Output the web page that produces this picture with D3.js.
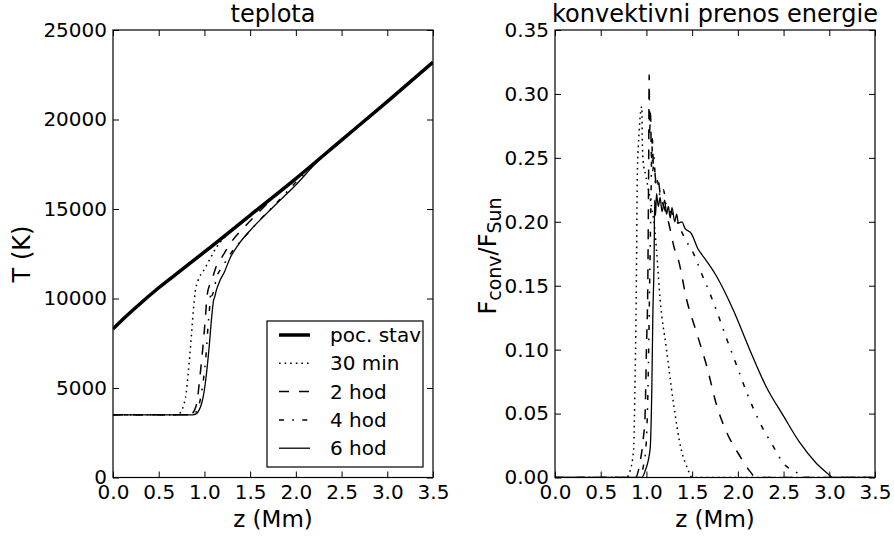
<!DOCTYPE html>
<html lang="en">
  <head>
    <meta charset="UTF-8" />
    <title>teplota / konvektivni prenos</title>
    <script src="https://cdn.jsdelivr.net/npm/d3@7"></script>
    <style>
      body { margin: 0; background: #fff; }
      svg { display: block; font-family: "DejaVu Sans", sans-serif; }
    </style>
  </head>
  <body>
    <svg width="894" height="539"></svg>
    <script>
      // z (Mm), T (K)
      const tPocStav = [[0,8300],[0.1,8800],[0.25,9500],[0.5,10600],[0.75,11600],[1.0,12600],[1.5,14650],[2.0,16700],[2.5,18850],[3.0,21000],[3.5,23200]];
      const t30min = [[0,3500],[0.70,3500],[0.74,3650],[0.77,4000],[0.80,4700],[0.82,5700],[0.84,6800],[0.86,8100],[0.88,9400],[0.90,10400],[0.93,11000],[0.99,11550],[1.06,12200],[1.13,12850],[1.21,13350],[1.35,14000],[1.5,14600],[1.75,15650],[2.0,16700],[2.5,18850],[3.0,21000],[3.5,23200]];
      const t2hod = [[0,3500],[0.82,3500],[0.86,3550],[0.89,3750],[0.92,4250],[0.95,5600],[0.98,7100],[1.01,8900],[1.03,10200],[1.06,10800],[1.09,11200],[1.13,11800],[1.19,12300],[1.30,13200],[1.43,13950],[1.57,14700],[1.76,15650],[2.0,16650],[2.2,17550],[2.5,18850],[3.0,21000],[3.5,23200]];
      const t4hod = [[0,3500],[0.85,3500],[0.89,3580],[0.93,3850],[0.96,4500],[0.99,5500],[1.02,7000],[1.04,8500],[1.06,9700],[1.07,10400],[1.08,10150],[1.10,10400],[1.13,11100],[1.2,11800],[1.3,12600],[1.45,13500],[1.6,14350],[1.8,15400],[2.0,16500],[2.2,17500],[2.5,18850],[3.0,21000],[3.5,23200]];
      const t6hod = [[0,3500],[0.87,3500],[0.91,3550],[0.94,3750],[0.97,4150],[0.99,4600],[1.02,5700],[1.05,7200],[1.08,9000],[1.10,9900],[1.11,10050],[1.13,10450],[1.17,11000],[1.22,11500],[1.28,12250],[1.37,13000],[1.5,13800],[1.64,14550],[1.83,15500],[2.01,16400],[2.2,17450],[2.4,18400],[2.6,19300],[3.0,21000],[3.5,23200]];

      // z (Mm), Fconv/FSun
      const f30min = [[0,0],[0.78,0],[0.82,0.005],[0.86,0.022],[0.875,0.074],[0.886,0.126],[0.893,0.178],[0.90,0.235],[0.92,0.27],[0.935,0.285],[0.95,0.29],[0.955,0.262],[0.965,0.247],[0.99,0.237],[1.02,0.226],[1.06,0.21],[1.09,0.195],[1.11,0.178],[1.15,0.139],[1.22,0.1],[1.29,0.061],[1.38,0.022],[1.45,0.007],[1.5,0],[3.5,0]];
      const f2hod = [[0,0],[0.88,0],[0.93,0.012],[0.965,0.03],[0.985,0.048],[1.0,0.1],[1.015,0.152],[1.025,0.25],[1.03,0.315],[1.035,0.27],[1.045,0.285],[1.055,0.25],[1.065,0.265],[1.075,0.245],[1.09,0.24],[1.11,0.228],[1.13,0.232],[1.15,0.222],[1.2,0.21],[1.24,0.2],[1.31,0.178],[1.35,0.17],[1.44,0.139],[1.55,0.113],[1.66,0.087],[1.77,0.056],[1.88,0.035],[2.02,0.017],[2.13,0.005],[2.2,0],[3.5,0]];
      const f4hod = [[0,0],[0.92,0],[0.97,0.01],[1.0,0.03],[1.02,0.08],[1.035,0.15],[1.05,0.22],[1.06,0.26],[1.07,0.24],[1.085,0.25],[1.1,0.228],[1.12,0.232],[1.15,0.22],[1.185,0.225],[1.22,0.212],[1.3,0.205],[1.4,0.19],[1.46,0.182],[1.51,0.176],[1.6,0.16],[1.66,0.15],[1.79,0.126],[1.88,0.108],[1.99,0.087],[2.1,0.066],[2.24,0.043],[2.39,0.024],[2.5,0.011],[2.64,0.004],[2.72,0],[3.5,0]];
      const f6hod = [[0,0],[0.95,0],[0.985,0.005],[1.04,0.022],[1.06,0.074],[1.07,0.126],[1.085,0.178],[1.09,0.217],[1.10,0.205],[1.11,0.222],[1.13,0.212],[1.15,0.219],[1.17,0.208],[1.2,0.217],[1.22,0.206],[1.24,0.212],[1.26,0.203],[1.28,0.211],[1.31,0.2],[1.33,0.206],[1.35,0.199],[1.39,0.2],[1.42,0.195],[1.49,0.191],[1.57,0.178],[1.59,0.176],[1.77,0.157],[1.95,0.131],[2.13,0.1],[2.31,0.071],[2.5,0.048],[2.68,0.027],[2.86,0.011],[3.0,0.002],[3.03,0],[3.5,0]];

      const legendLabels = ["poc. stav", "30 min", "2 hod", "4 hod", "6 hod"];
      const zTicks = [0, 0.5, 1, 1.5, 2, 2.5, 3, 3.5];
      const tTicks = [0, 5000, 10000, 15000, 20000, 25000];
      const fTicks = [0, 0.05, 0.1, 0.15, 0.2, 0.25, 0.3, 0.35];

      // line styles (matplotlib classic look)
      const styles = [
        { width: 3.5, dash: null },
        { width: 1.5, dash: "1.6,4" },
        { width: 1.5, dash: "10,10" },
        { width: 1.5, dash: "5,8.3,1.7,8.3" },
        { width: 1.3, dash: null },
      ];

      const svg = d3.select("svg");
      const plotTop = 30, plotBottom = 477.5, tickLen = 6;

      function panel(x0, x1, yDomain, yTicks, yFmt, series, lineStyles, title) {
        const x = d3.scaleLinear().domain([0, 3.5]).range([x0, x1]);
        const y = d3.scaleLinear().domain(yDomain).range([plotBottom, plotTop]);
        const g = svg.append("g");

        const clipId = "clip" + Math.round(x0);
        g.append("clipPath").attr("id", clipId)
          .append("rect").attr("x", x0).attr("y", plotTop).attr("width", x1 - x0).attr("height", plotBottom - plotTop);

        const line = d3.line().x(d => x(d[0])).y(d => y(d[1])).curve(d3.curveMonotoneX);
        g.append("g").attr("clip-path", `url(#${clipId})`)
          .selectAll("path").data(series).join("path")
          .attr("d", line)
          .attr("fill", "none")
          .attr("stroke", "#000")
          .attr("stroke-width", (d, i) => lineStyles[i].width)
          .attr("stroke-dasharray", (d, i) => lineStyles[i].dash);

        // ticks inside, on all four sides
        const axB = d3.axisBottom(x).tickValues(zTicks).tickSizeInner(-tickLen).tickSizeOuter(0).tickPadding(7).tickFormat(d3.format(".1f"));
        const axT = d3.axisTop(x).tickValues(zTicks).tickSizeInner(-tickLen).tickSizeOuter(0).tickFormat("");
        const axL = d3.axisLeft(y).tickValues(yTicks).tickSizeInner(-tickLen).tickSizeOuter(0).tickPadding(6).tickFormat(yFmt);
        const axR = d3.axisRight(y).tickValues(yTicks).tickSizeInner(-tickLen).tickSizeOuter(0).tickFormat("");
        g.append("g").attr("transform", `translate(0,${plotBottom})`).call(axB);
        g.append("g").attr("transform", `translate(0,${plotTop})`).call(axT);
        g.append("g").attr("transform", `translate(${x0},0)`).call(axL);
        g.append("g").attr("transform", `translate(${x1},0)`).call(axR);
        g.selectAll(".domain").remove();
        g.selectAll(".tick line").attr("stroke", "#000");
        g.selectAll(".tick text").attr("font-size", 20).attr("font-family", "DejaVu Sans").attr("fill", "#000");

        g.append("rect").attr("x", x0).attr("y", plotTop).attr("width", x1 - x0).attr("height", plotBottom - plotTop)
          .attr("fill", "none").attr("stroke", "#000").attr("stroke-width", 1.2);

        g.append("text").attr("x", (x0 + x1) / 2).attr("y", 22)
          .attr("text-anchor", "middle").attr("font-size", 24).text(title);
        g.append("text").attr("x", (x0 + x1) / 2).attr("y", 527)
          .attr("text-anchor", "middle").attr("font-size", 23).text("z (Mm)");
        return g;
      }

      const left = panel(113, 433, [0, 25000], tTicks, d3.format("d"),
        [tPocStav, t30min, t2hod, t4hod, t6hod], styles, "teplota");
      const right = panel(555, 875, [0, 0.35], fTicks, d3.format(".2f"),
        [f30min, f2hod, f4hod, f6hod], styles.slice(1), "konvektivni prenos energie");

      // y labels
      left.append("text").attr("transform", "translate(30,254) rotate(-90)")
        .attr("text-anchor", "middle").attr("font-size", 24).text("T (K)");
      const yl = right.append("text").attr("transform", "translate(496,256) rotate(-90)")
        .attr("text-anchor", "middle").attr("font-size", 24);
      yl.append("tspan").text("F");
      yl.append("tspan").attr("font-size", 19).attr("dy", 5).text("conv");
      yl.append("tspan").attr("dy", -5).text("/F");
      yl.append("tspan").attr("font-size", 19).attr("dy", 5).text("Sun");

      // legend
      const lg = left.append("g");
      lg.append("rect").attr("x", 267).attr("y", 321).attr("width", 156).attr("height", 146)
        .attr("fill", "#fff").attr("stroke", "#000").attr("stroke-width", 1.2);
      const rows = lg.selectAll("g.row").data(legendLabels).join("g").attr("class", "row")
        .attr("transform", (d, i) => `translate(0,${335 + i * 28.3})`);
      rows.append("line").attr("x1", 279).attr("x2", 310)
        .attr("stroke", "#000")
        .attr("stroke-width", (d, i) => styles[i].width)
        .attr("stroke-dasharray", (d, i) => styles[i].dash);
      rows.append("text").attr("x", 330).attr("y", 7).attr("font-size", 20).text(d => d);
    </script>
  </body>
</html>
